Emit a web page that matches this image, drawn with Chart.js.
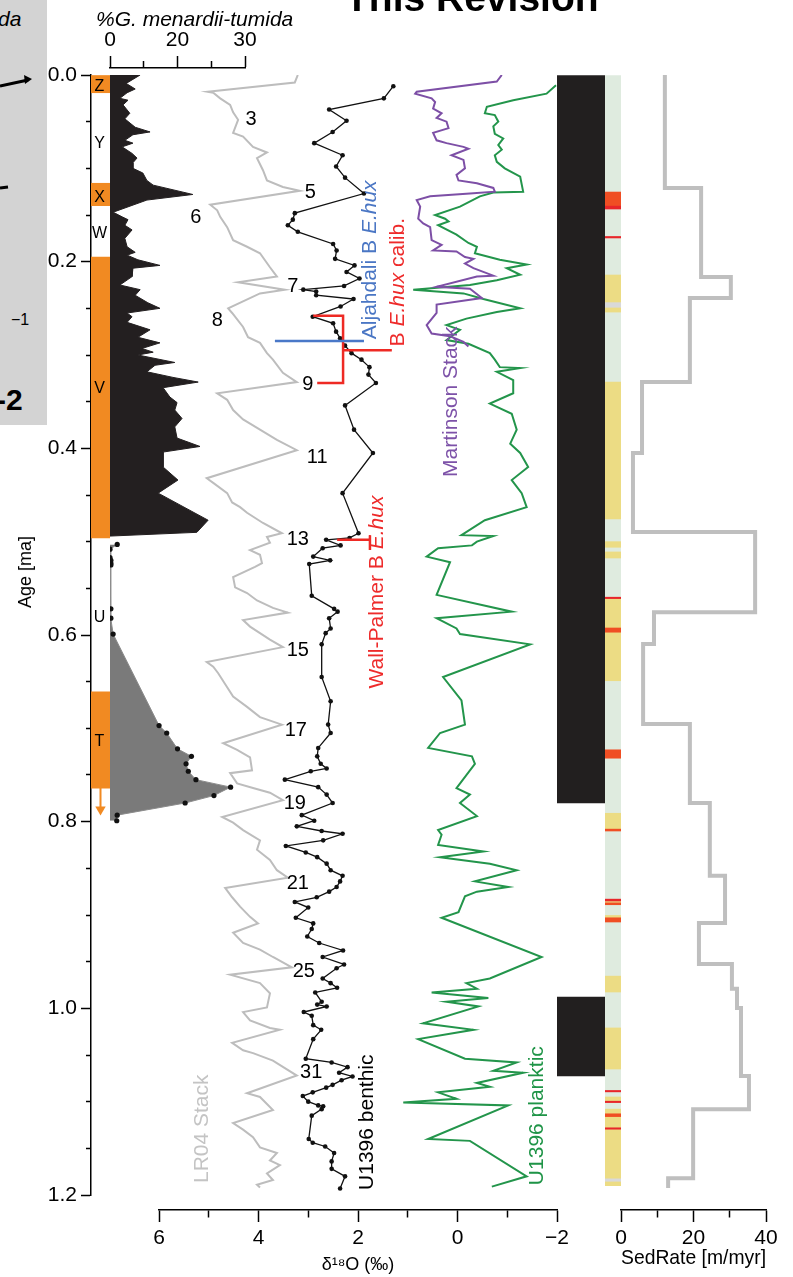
<!DOCTYPE html>
<html lang="en">
<head>
<meta charset="utf-8">
<title>U1396 age model - this revision</title>
<script src="https://cdn.jsdelivr.net/npm/chart.js@4.4.1/dist/chart.umd.min.js"></script>
<style>
  html, body { margin: 0; background: #fff; }
  #wrap { position: relative; width: 793px; height: 1277px; overflow: hidden;
          font-family: 'Liberation Sans', Arial, Helvetica, sans-serif; color: #000; }
  #chart { position: absolute; left: 0; top: 0; }
  .abs { position: absolute; white-space: nowrap; line-height: 1; }
  #side { left: 0; top: 0; width: 47px; height: 425px; background: #d3d3d3; overflow: hidden; }
  #side .da { left: -2px; top: 8px; font-size: 21px; font-style: italic; }
  #side .m1 { left: 11px; top: 312px; font-size: 16px; }
  #side .m2 { left: -4px; top: 385px; font-size: 30px; font-weight: bold; }
  #pageTitle { left: 345px; top: -22px; font-size: 39px; font-weight: bold; }
  #menTitle { left: 96px; top: 8px; font-size: 21px; font-style: italic; }
  #ageTitle { left: 25px; top: 572px; font-size: 18px; transform: translate(-50%, -50%) rotate(-90deg); }
</style>
</head>
<body>
<div id="wrap">
  <canvas id="chart" width="793" height="1277"></canvas>
  <div id="side" class="abs">
    <span class="abs da">da</span>
    <svg class="abs" style="left:0;top:0" width="47" height="425">
      <path d="M0 86 L28 80" stroke="#000" stroke-width="3" fill="none"/>
      <path d="M32 79 L24 75 L25 84 Z" fill="#000"/>
      <path d="M0 188 L8 187" stroke="#000" stroke-width="3"/>
    </svg>
    <span class="abs m1">&minus;1</span>
    <span class="abs m2">-2</span>
  </div>
  <div id="pageTitle" class="abs">This Revision</div>
  <div id="menTitle" class="abs">%G. menardii-tumida</div>
  <div id="ageTitle" class="abs">Age [ma]</div>
</div>
<script>
'use strict';

/* ---------- values (age in ma) ---------- */

// foraminifer zones
const zoneLetters   = ['Z', 'Y', 'X', 'W', 'V', 'U', 'T'];
const zoneLetterAge = [0.012, 0.073, 0.131, 0.170, 0.336, 0.581, 0.714];
const zoneFrom = [0.000, 0.116, 0.195, 0.661];
const zoneTo   = [0.019, 0.140, 0.496, 0.764];
const zoneArrowAge = [0.764, 0.787];

// % G. menardii (black) and G. tumida (grey, sampled)
const menAge = [0.000,0.009,0.015,0.019,0.025,0.027,0.032,0.041,0.047,0.056,
  0.061,0.064,0.070,0.073,0.077,0.084,0.089,0.094,0.100,0.105,
  0.113,0.118,0.128,0.134,0.147,0.152,0.155,0.161,0.166,0.175,
  0.184,0.190,0.193,0.198,0.204,0.207,0.216,0.225,0.230,0.236,
  0.244,0.250,0.255,0.259,0.265,0.273,0.281,0.287,0.293,0.297,
  0.300,0.308,0.311,0.318,0.324,0.329,0.335,0.345,0.351,0.359,
  0.368,0.377,0.389,0.398,0.404,0.420,0.434,0.448,0.477,0.490,
  0.494];
const menPct = [6.7,3.6,5.6,3.8,2.2,4.0,2.9,4.4,3.3,5.6,
  8.9,5.1,3.3,5.1,2.7,4.9,6.0,5.1,5.1,7.3,
  8.2,9.6,18.4,8.2,0.7,2.7,4.0,3.3,4.9,3.3,
  3.8,5.6,3.8,6.2,11.1,5.1,4.9,2.2,6.7,5.6,
  8.4,11.1,3.8,4.9,3.8,8.9,6.2,11.1,7.1,9.6,
  6.2,14.4,10.0,8.2,14.0,19.6,11.8,13.3,14.9,14.4,
  16.0,14.4,14.9,20.0,11.8,11.8,15.1,10.7,21.8,19.3,
  0.0];
const tumAge = [0.503,0.508,0.517,0.520,0.523,0.525,0.572,0.582,0.599,0.697,
  0.705,0.722,0.730,0.738,0.746,0.755,0.763,0.772,0.780,0.793,0.799];
const tumPct = [1.6,0.0,0.0,0.2,0.2,0.2,0.2,0.2,0.7,10.9,
  12.6,15.0,18.1,16.9,17.4,19.1,26.8,23.1,16.7,1.6,1.5];
const menTickLabels = ['0', '', '20', '', '30'];

// δ18O records (‰)
const lrAge = [0.000,0.008,0.018,0.019,0.025,0.032,0.040,0.048,0.062,0.066,
  0.077,0.083,0.089,0.102,0.113,0.120,0.124,0.139,0.145,0.152,
  0.163,0.177,0.184,0.191,0.206,0.216,0.222,0.230,0.234,0.250,
  0.255,0.270,0.281,0.287,0.298,0.305,0.319,0.329,0.341,0.348,
  0.359,0.369,0.380,0.391,0.402,0.432,0.437,0.448,0.458,0.463,
  0.469,0.480,0.491,0.495,0.501,0.509,0.514,0.523,0.527,0.538,
  0.549,0.555,0.563,0.571,0.576,0.584,0.591,0.598,0.605,0.613,
  0.629,0.634,0.641,0.656,0.666,0.677,0.688,0.696,0.716,0.723,
  0.731,0.745,0.748,0.759,0.764,0.769,0.777,0.795,0.801,0.809,
  0.820,0.830,0.841,0.852,0.860,0.871,0.881,0.891,0.902,0.909,
  0.919,0.930,0.937,0.945,0.956,0.964,0.973,0.984,0.999,1.004,
  1.013,1.021,1.023,1.037,1.045,1.048,1.056,1.072,1.091,1.095,
  1.109,1.123,1.130,1.138,1.149,1.155,1.163,1.168,1.177,1.184,
  1.189,1.192];
const lrD18O = [3.21,3.27,5.02,4.91,4.77,4.57,4.51,4.41,4.51,4.31,
  4.11,3.83,4.03,3.91,3.83,3.51,3.17,4.97,4.83,4.77,
  4.63,4.51,4.23,3.97,3.77,3.63,4.41,3.47,3.97,4.61,
  4.53,4.31,4.21,3.97,3.83,3.71,3.51,3.23,4.83,4.63,
  4.51,4.31,3.97,3.63,3.23,5.04,4.91,4.63,4.53,4.37,
  4.23,3.91,3.53,3.83,3.77,4.17,3.97,3.93,4.07,4.51,
  4.47,4.23,4.03,3.71,3.41,4.31,4.17,3.97,3.77,3.51,
  5.04,4.91,4.81,4.63,4.51,4.23,3.97,3.53,4.71,4.43,
  4.17,4.13,4.57,4.43,4.11,3.77,3.51,4.73,4.51,4.31,
  3.97,4.03,3.77,3.63,3.41,4.67,4.53,4.37,4.17,4.01,
  4.51,4.31,3.97,3.71,3.33,4.57,3.97,3.77,3.83,4.31,
  4.17,3.77,3.57,4.53,4.31,4.11,3.71,3.23,4.23,3.97,
  3.71,4.51,4.31,4.11,3.97,3.63,3.77,3.57,3.83,3.71,
  4.03,3.97];

const benAge = [0.012,0.025,0.037,0.049,0.061,0.073,0.086,0.098,0.110,0.127,
  0.148,0.155,0.161,0.168,0.181,0.188,0.197,0.204,0.211,0.218,
  0.226,0.230,0.232,0.236,0.240,0.248,0.259,0.266,0.275,0.282,
  0.290,0.298,0.305,0.313,0.321,0.330,0.354,0.380,0.405,0.448,
  0.491,0.496,0.498,0.504,0.507,0.516,0.520,0.524,0.558,0.572,
  0.575,0.582,0.593,0.598,0.610,0.645,0.671,0.696,0.705,0.721,
  0.730,0.738,0.743,0.746,0.755,0.763,0.771,0.780,0.793,0.799,
  0.805,0.810,0.813,0.820,0.826,0.833,0.838,0.845,0.852,0.858,
  0.864,0.870,0.875,0.881,0.886,0.892,0.903,0.909,0.915,0.923,
  0.930,0.938,0.945,0.953,0.957,0.968,0.973,0.978,0.983,0.993,
  0.996,0.998,1.004,1.008,1.018,1.023,1.033,1.054,1.058,1.063,
  1.069,1.073,1.077,1.082,1.085,1.090,1.094,1.100,1.104,1.105,
  1.108,1.115,1.140,1.144,1.148,1.155,1.164,1.172,1.180,1.193];
const benD18O = [1.29,1.48,2.58,2.23,2.51,2.88,2.31,2.44,2.26,1.88,
  3.27,3.31,3.41,3.21,2.50,2.43,2.46,2.07,2.23,1.97,
  2.28,3.10,2.84,2.84,2.09,2.35,2.91,2.50,2.44,2.36,
  2.26,2.13,1.93,1.77,1.79,1.64,2.26,2.08,1.70,2.31,
  1.99,2.17,2.64,2.35,2.71,2.90,2.56,2.98,2.93,2.48,
  2.41,2.58,2.55,2.65,2.73,2.73,2.55,2.60,2.55,2.80,
  2.82,2.75,2.63,2.95,3.47,2.80,2.63,2.51,3.13,2.88,
  3.23,2.73,2.31,2.70,3.45,3.05,2.82,2.63,2.55,2.31,
  2.36,2.43,2.58,2.83,3.27,3.00,3.25,2.90,2.93,3.02,
  2.78,2.30,2.71,2.28,2.43,2.71,2.55,2.42,2.86,2.73,
  2.82,2.63,3.09,2.93,2.90,2.74,2.90,3.05,2.53,2.21,
  2.38,2.11,2.33,2.51,2.64,2.91,3.11,3.00,2.80,2.70,
  2.73,2.93,2.99,2.91,2.66,2.48,2.53,2.53,2.26,2.36];

const marAge = [0.000,0.007,0.018,0.020,0.025,0.029,0.036,0.041,0.046,0.050,
  0.057,0.062,0.070,0.073,0.077,0.079,0.086,0.091,0.100,0.107,
  0.113,0.116,0.121,0.125,0.127,0.130,0.134,0.141,0.154,0.159,
  0.163,0.177,0.182,0.188,0.189,0.195,0.197,0.202,0.207,0.215,
  0.216,0.227,0.229,0.239,0.246,0.255,0.268,0.277,0.280,0.286,
  0.291];
const marD18O = [-0.89,-0.79,0.82,0.85,0.52,0.45,0.49,0.32,0.42,0.22,
  0.18,0.49,0.42,0.22,-0.12,-0.22,0.12,-0.12,-0.15,0.02,
  -0.02,-0.39,-0.72,-0.75,-0.25,0.55,0.82,0.75,0.79,0.69,
  0.55,0.52,0.32,0.49,0.02,-0.15,-0.32,-0.15,-0.32,-0.72,
  -0.39,0.42,-0.25,-0.49,0.42,0.42,0.62,0.52,0.15,-0.12,
  -0.22];

const plkAge = [0.011,0.020,0.027,0.034,0.041,0.043,0.050,0.055,0.063,0.068,
  0.075,0.080,0.086,0.093,0.100,0.109,0.125,0.126,0.130,0.141,
  0.150,0.154,0.157,0.161,0.171,0.180,0.184,0.191,0.198,0.203,
  0.207,0.214,0.220,0.225,0.230,0.234,0.240,0.250,0.254,0.261,
  0.268,0.273,0.284,0.288,0.298,0.305,0.313,0.314,0.318,0.327,
  0.341,0.352,0.363,0.380,0.395,0.405,0.420,0.434,0.448,0.463,
  0.477,0.493,0.494,0.500,0.504,0.507,0.516,0.522,0.557,0.575,
  0.582,0.593,0.599,0.610,0.645,0.670,0.696,0.705,0.721,0.730,
  0.738,0.764,0.771,0.780,0.794,0.809,0.814,0.825,0.832,0.838,
  0.845,0.852,0.864,0.870,0.875,0.880,0.897,0.903,0.945,0.968,
  0.973,0.979,0.983,0.989,0.993,0.998,1.016,1.023,1.033,1.054,
  1.058,1.067,1.069,1.080,1.084,1.090,1.097,1.101,1.104,1.140,
  1.142,1.180,1.191];
const plkD18O = [-1.98,-1.79,-1.12,-0.59,-0.55,-0.75,-0.82,-0.72,-0.75,-0.92,
  -0.82,-0.89,-0.75,-0.79,-0.95,-1.26,-1.32,-0.72,-0.45,-0.05,
  0.45,0.25,0.18,0.39,0.02,-0.22,-0.39,-0.35,-0.85,-1.39,
  -0.99,-1.26,-0.79,-0.25,0.89,-0.12,-0.52,-1.26,-0.79,-0.18,
  0.22,-0.05,0.22,-0.22,-0.65,-0.75,-0.85,-1.26,-0.79,-1.12,
  -1.12,-0.65,-1.09,-1.19,-1.06,-1.26,-1.42,-1.09,-1.29,-1.39,
  -0.55,-0.08,-0.72,-0.39,-0.29,0.39,0.62,0.15,0.42,-1.09,
  0.42,0.02,-0.05,-1.46,0.29,-0.08,-0.15,0.35,0.59,-0.29,
  -0.35,0.02,-0.25,-0.05,-0.39,0.39,0.32,0.39,-0.52,0.35,
  -0.65,-1.19,-0.35,-1.02,-0.39,-0.15,-0.02,0.32,-1.69,-0.65,
  -0.18,-0.39,0.52,-0.62,0.22,-0.42,0.69,-0.32,0.79,-0.15,
  -1.19,-0.72,-1.32,-0.39,-0.65,0.39,0.02,1.09,-1.02,0.59,
  -0.25,-1.39,-0.69];

// E. huxleyi datums drawn on the δ18O panel
const aljAge = [0.285, 0.285];               const aljD18O = [3.67, 1.88];
const calAge = [0.258, 0.258, 0.330, 0.330]; const calD18O = [2.90, 2.30, 2.30, 2.82];
const calMidAge = [0.295, 0.295];            const calMidD18O = [2.30, 1.32];
const wpAge = [0.498, 0.498];                const wpD18O = [2.42, 1.76];
const wpTickAge = [0.493, 0.509];            const wpTickD18O = [1.76, 1.76];

// MIS numbers next to LR04
const misNames = ['3','5','6','7','8','9','11','13','15','17','19','21','25','31'];
const misAge  = [0.048,0.126,0.153,0.227,0.263,0.332,0.410,0.498,0.617,0.702,0.780,0.866,0.961,1.069];
const misD18O = [4.15,2.96,5.26,3.31,4.83,3.01,2.82,3.21,3.21,3.25,3.27,3.21,3.09,2.94];

// series captions (rotated), anchored at their centre
const captions = ['LR04 Stack','U1396 benthic','Martinson Stack','U1396 planktic',
  'Aljahdali B *E.hux*','B *E.hux* calib.','Wall-Palmer B *E.hux*'];
const captionAge  = [1.129, 1.122, 0.350, 1.115, 0.198, 0.222, 0.554];
const captionD18O = [5.13, 1.82, 0.13, -1.60, 1.76, 1.20, 1.62];

// magnetic polarity (black = normal)
const normalFrom = [0.000, 0.988];
const normalTo   = [0.780, 1.0725];

// lithology strip
const stripFrom = [0.000];  const stripTo = [1.190];
const yellowFrom = [0.2143,0.2496,0.329,0.500,0.511,0.561,0.597,0.791,0.885,0.9005,0.9655,1.021,1.095,1.108,1.116,1.186];
const yellowTo   = [0.2432,0.254,0.4757,0.506,0.5175,0.5925,0.649,0.808,0.887,0.903,0.9825,1.065,1.0995,1.113,1.182,1.190];
const greyFrom = [0.2432, 1.182];  const greyTo = [0.2496, 1.186];
const tephraFrom = [0.1254,0.5925,0.723,0.808,0.887,0.903,1.113];
const tephraTo   = [0.1405,0.597,0.732,0.810,0.889,0.9075,1.116];
const redFrom = [0.1405,0.173,0.5595,0.883,1.088,1.0995,1.128];
const redTo   = [0.1436,0.1746,0.561,0.885,1.0895,1.101,1.1295];

// sedimentation rate (m/myr), constant from sedTop[i] down to the next step
const sedTop  = [0,0.121,0.2165,0.239,0.329,0.405,0.4897,0.5755,0.6097,0.6954,0.780,0.858,0.9085,0.9525,0.979,0.9997,1.0725,1.108,1.182,1.1925];
const sedRate = [12.1,22.1,30.3,19.0,5.8,3.3,37.0,9.1,6.1,19.0,24.5,28.7,21.5,30.6,32.0,33.1,35.3,19.9,13.0,13.0];

/* ---------- helpers ---------- */
const FONT = "'Liberation Sans', Arial, Helvetica, sans-serif";
Chart.defaults.font.family = FONT;
Chart.defaults.color = '#000';

const pts = (xs, ys) => xs.map((x, i) => ({ x, y: ys[i] }));
const spans = (from, to) => from.map((a, i) => ({ x: 'c', y: [a, to[i]] }));
const isStep = (v, s) => Math.abs(v / s - Math.round(v / s)) < 1e-6;
const minus = v => (v < 0 ? '\u2212' + Math.abs(v) : String(v));

function line(xAxisID, xs, ys, opts) {
  return Object.assign({
    type: 'line', indexAxis: 'y', xAxisID, yAxisID: 'y', data: pts(xs, ys),
    borderWidth: 2, pointRadius: 0, tension: 0, fill: false
  }, opts);
}
function column(xAxisID, from, to, color, order) {
  return {
    type: 'bar', xAxisID, yAxisID: 'y', data: spans(from, to), backgroundColor: color,
    grouped: false, barPercentage: 1, categoryPercentage: 1, borderWidth: 0, order
  };
}

// short (minor) ticks through dash patterns: bottom axes draw ticks outward
// from the axis line, top/left axes draw them towards it
const dashOut = len => [len, 100];
const dashIn = (tl, len) => [0, tl - len, len + 2, 100];
const axisLine = { display: true, color: '#000', width: 1.5 };
const tickFont = { size: 21 };
// every box in a row gets the same height so the stacked row adds up cleanly
const rowHeight = { top: 60, bottom: 70 };

function hiddenCol(position, weight) {
  return { axis: 'x', type: 'category', labels: ['c'], offset: true, display: false,
           position, stack: position, stackWeight: weight,
           afterFit: s => { s.height = rowHeight[position]; } };
}
function spacer(position, weight) {
  return { axis: 'x', type: 'linear', display: false, position, stack: position, stackWeight: weight,
           afterFit: s => { s.height = rowHeight[position]; } };
}
function valueAxis(position, min, max, step, weight, label, title) {
  const out = position === 'bottom';
  return {
    axis: 'x', type: 'linear', position, stack: position, stackWeight: weight,
    min, max, offset: false,
    afterFit: s => { s.height = rowHeight[position]; },
    border: axisLine,
    grid: {
      drawOnChartArea: false, tickLength: 12, tickWidth: 1.5, tickColor: '#000',
      tickBorderDash: c => (c.tick && label(c.tick.value, c.index) === '') ? (out ? dashOut(7) : dashIn(12, 7)) : []
    },
    ticks: { stepSize: step, autoSkip: false, maxRotation: 0, minRotation: 0,
             padding: out ? 4 : 3, font: tickFont, callback: label },
    title: title || { display: false }
  };
}

/* ---------- plugins ---------- */
// axes sit a little away from the data area, as in the original figure
const axisGap = {
  id: 'axisGap',
  afterLayout(chart) {
    for (const s of Object.values(chart.scales)) {
      if (s.axis !== 'x') continue;
      const d = s.position === 'top' ? -7 : 15;
      s.top += d;
      s.bottom += d;
    }
  }
};

const captionColors = ['#c4c4c4', '#000', '#7d52a8', '#1f9447', '#4a76c4', '#ee2b2b', '#ee2b2b'];

function drawVertical(ctx, text, x, y, color) {
  const parts = text.split('*');
  const fontOf = i => (i % 2 ? 'italic ' : '') + '21px ' + FONT;
  let total = 0;
  const widths = parts.map((p, i) => { ctx.font = fontOf(i); const w = ctx.measureText(p).width; total += w; return w; });
  ctx.save();
  ctx.translate(x, y);
  ctx.rotate(-Math.PI / 2);
  ctx.fillStyle = color;
  ctx.textAlign = 'left';
  ctx.textBaseline = 'middle';
  let cx = -total / 2;
  parts.forEach((p, i) => { ctx.font = fontOf(i); ctx.fillText(p, cx, 0); cx += widths[i]; });
  ctx.restore();
}

const annotate = {
  id: 'annotate',
  afterDatasetsDraw(chart) {
    const { ctx, scales: { y, xD, xZone } } = chart;
    ctx.save();
    ctx.fillStyle = '#000';
    ctx.textAlign = 'center';
    ctx.textBaseline = 'middle';
    ctx.font = '16px ' + FONT;
    zoneLetters.forEach((t, i) => ctx.fillText(t, xZone.getPixelForValue(0) - 1, y.getPixelForValue(zoneLetterAge[i])));
    ctx.font = '20px ' + FONT;
    misNames.forEach((t, i) => ctx.fillText(t, xD.getPixelForValue(misD18O[i]), y.getPixelForValue(misAge[i])));
    captions.forEach((t, i) => drawVertical(ctx, t, xD.getPixelForValue(captionD18O[i]),
      y.getPixelForValue(captionAge[i]), captionColors[i]));
    ctx.restore();
  }
};

/* ---------- chart ---------- */
const RED = '#ee2a24';
const datasets = [
  column('xStrip', stripFrom, stripTo, '#dfebdf', 20),
  column('xStrip', yellowFrom, yellowTo, '#ecdc84', 19),
  column('xStrip', greyFrom, greyTo, '#d9d9d9', 19),
  column('xStrip', tephraFrom, tephraTo, '#f04e23', 18),
  column('xStrip', redFrom, redTo, '#e8262a', 17),
  column('xBlk', normalFrom, normalTo, '#221f1f', 16),
  column('xZone', zoneFrom, zoneTo, '#f18a22', 15),
  line('xZone', ['c', 'c'], zoneArrowAge, {
    borderColor: '#f18a22', borderWidth: 2, order: 14,
    pointStyle: 'triangle', rotation: 180, pointRadius: [0, 6],
    pointBackgroundColor: '#f18a22', pointBorderWidth: 0
  }),
  line('xM', menPct, menAge, {
    borderColor: '#231f20', backgroundColor: '#231f20', borderWidth: 1, fill: 'origin', order: 13
  }),
  line('xM', tumPct, tumAge, {
    borderColor: '#8c8c8c', backgroundColor: '#7a7a7a', borderWidth: 1, fill: 'origin', order: 12,
    pointRadius: 2.6, pointBackgroundColor: '#111', pointBorderWidth: 0
  }),
  line('xD', lrD18O, lrAge, { borderColor: '#bdbdbd', borderWidth: 2, order: 11 }),
  line('xD', plkD18O, plkAge, { borderColor: '#23954b', borderWidth: 2, order: 10 }),
  line('xD', marD18O, marAge, { borderColor: '#7d4fa6', borderWidth: 2, order: 9 }),
  line('xD', benD18O, benAge, {
    borderColor: '#111', borderWidth: 1.3, order: 8,
    pointRadius: 2.3, pointBackgroundColor: '#111', pointBorderWidth: 0
  }),
  line('xD', aljD18O, aljAge, { borderColor: '#4a78c8', borderWidth: 2.5, order: 7 }),
  line('xD', calD18O, calAge, { borderColor: RED, borderWidth: 2.5, order: 7 }),
  line('xD', calMidD18O, calMidAge, { borderColor: RED, borderWidth: 2.5, order: 7 }),
  line('xD', wpD18O, wpAge, { borderColor: RED, borderWidth: 2.5, order: 7 }),
  line('xD', wpTickD18O, wpTickAge, { borderColor: RED, borderWidth: 2.5, order: 7 }),
  line('xSed', sedRate, sedTop, {
    borderColor: '#bfbfbf', borderWidth: 4, stepped: 'after', borderJoinStyle: 'miter', order: 6
  })
];

new Chart(document.getElementById('chart'), {
  type: 'line',
  data: { datasets },
  options: {
    responsive: false,
    devicePixelRatio: 1,
    animation: false,
    events: [],
    layout: { padding: { top: 15, bottom: 12, left: 0, right: 23 } },
    plugins: { legend: { display: false }, tooltip: { enabled: false } },
    scales: {
      y: {
        type: 'linear', position: 'left', reverse: true, min: 0, max: 1.2,
        afterFit: s => { s.width = 91; },
        border: axisLine,
        grid: {
          drawOnChartArea: false, tickLength: 10, tickWidth: 1.5, tickColor: '#000',
          tickBorderDash: c => (c.tick && !isStep(c.tick.value, 0.2)) ? dashIn(10, 5) : []
        },
        ticks: {
          stepSize: 0.05, autoSkip: false, padding: 4, font: tickFont,
          callback: v => (isStep(v, 0.2) ? v.toFixed(1) : '')
        }
      },
      // top row (Chart.js lays top boxes out last-defined first): zone column | % menardii | rest
      xTopRest: spacer('top', 525),
      xM: valueAxis('top', 0, 30, 7.5, 135, (v, i) => menTickLabels[i]),
      xZone: hiddenCol('top', 19),
      // bottom row: lead | δ18O | polarity | lithology | sed. rate | tail
      xLead: spacer('bottom', 68),
      xD: Object.assign(valueAxis('bottom', -2, 6, 1, 398, v => (isStep(v, 2) ? minus(v) : ''), {
        display: true, text: 'δ¹⁸O (‰)', font: { size: 18 }, padding: { top: 0, bottom: 4 }
      }), { reverse: true }),
      xBlk: hiddenCol('bottom', 48),
      xStrip: hiddenCol('bottom', 16),
      xSed: valueAxis('bottom', 0, 40, 10, 145, v => (isStep(v, 20) ? String(v) : ''), {
        display: true, text: 'SedRate [m/myr]', font: { size: 21 }, padding: { top: 0, bottom: 9 }
      }),
      xTail: spacer('bottom', 4)
    }
  },
  plugins: [axisGap, annotate]
});
</script>
</body>
</html>
